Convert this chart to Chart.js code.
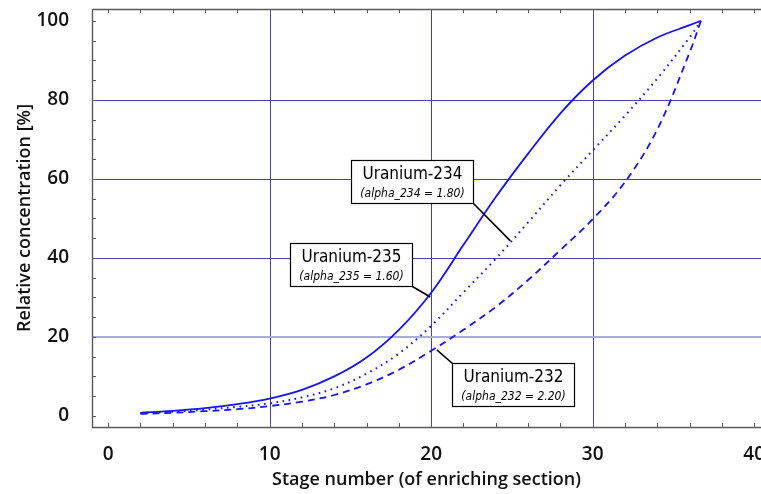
<!DOCTYPE html>
<html>
<head>
<meta charset="utf-8">
<title>Enrichment profile</title>
<script src="https://cdn.jsdelivr.net/npm/chart.js@4/dist/chart.umd.min.js"></script>
<style>
    html, body { margin: 0; padding: 0; background: #fff; overflow: hidden; }
    #chartBox { width: 761px; height: 494px; }
</style>
</head>
<body>
<div id="chartBox"><canvas id="Chartjs-Enrich" width="761" height="494"></canvas></div>
<script>
// stage numbers along the enriching section
const stages = [2, 4, 6, 8, 10, 12, 14, 16, 18, 20, 22, 24, 26, 28, 30, 32, 34, 36, 36.7];
// relative concentration [%]
const u235 = [0.8, 1.3, 2.0, 3.0, 4.4, 6.6, 10.0, 14.8, 21.8, 31.2, 43.3, 55.4, 66.4, 76.6, 84.9, 91.2, 95.8, 98.9, 100];
const u234 = [0.7, 1.1, 1.6, 2.3, 3.2, 4.7, 7.0, 10.7, 15.8, 22.8, 31.3, 39.8, 49.0, 58.4, 67.2, 76.0, 85.4, 95.8, 100];
const u232 = [0.5, 0.8, 1.2, 1.7, 2.5, 3.6, 5.3, 8.0, 11.7, 16.5, 21.8, 27.6, 34.4, 42.0, 49.8, 59.2, 72.5, 92.0, 100];

// callout texts
const noteTitles = ['Uranium-235', 'Uranium-234', 'Uranium-232'];
const noteAlphas = ['(alpha_235 = 1.60)', '(alpha_234 = 1.80)', '(alpha_232 = 2.20)'];

// which grid lines the old plot shows
const xGridAt = [10, 20, 30];
const yGridAt = [20, 40, 60, 80];

const EnrichChart = {
    Colors: {
        curve: 'rgb(20, 20, 240)',
        grid: 'rgb(66, 66, 178)',
        gridLight: 'rgb(170, 172, 218)',
        frame: 'rgb(90, 90, 90)',
        text: 'rgb(17, 17, 17)'
    },
    // where each callout box sits and where its leader points (data units)
    Notes: [
        { box: [15.02, 38.35], tip: [19.94, 30.1], corner: 'br' },
        { box: [18.82, 59.24], tip: [24.9, 44.3], corner: 'br' },
        { box: [25.05, 7.95], tip: [20.35, 16.7], corner: 'tl' }
    ],
    toPoints(vals) {
        return stages.map((s, i) => ({ x: s, y: vals[i] }));
    }
};

// grid, frame + small inward ticks, the look of the old plot
const frameTicks = {
    id: 'frameTicks',
    beforeDatasetsDraw(chart) {
        const { ctx, chartArea: a, scales: { x, y } } = chart;
        ctx.save();

        ctx.lineWidth = 1;
        ctx.strokeStyle = EnrichChart.Colors.grid;
        ctx.beginPath();
        xGridAt.forEach(v => {
            const px = Math.round(x.getPixelForValue(v)) + 0.5;
            ctx.moveTo(px, a.top);
            ctx.lineTo(px, a.bottom);
        });
        yGridAt.forEach(v => {
            if (v === 20) return;
            const py = Math.round(y.getPixelForValue(v)) + 0.5;
            ctx.moveTo(a.left, py);
            ctx.lineTo(a.right, py);
        });
        ctx.stroke();
        // the 20 % line comes out paler and fatter in the original
        ctx.strokeStyle = EnrichChart.Colors.gridLight;
        ctx.lineWidth = 2;
        ctx.beginPath();
        const p20 = Math.round(y.getPixelForValue(20));
        ctx.moveTo(a.left, p20);
        ctx.lineTo(a.right, p20);
        ctx.stroke();

        ctx.strokeStyle = EnrichChart.Colors.frame;
        ctx.lineWidth = 1.4;
        ctx.beginPath();
        ctx.moveTo(a.right + 2, a.top + 0.5);
        ctx.lineTo(a.left + 0.5, a.top + 0.5);
        ctx.lineTo(a.left + 0.5, a.bottom + 0.5);
        ctx.lineTo(a.right + 2, a.bottom + 0.5);
        ctx.stroke();

        ctx.lineWidth = 1;
        ctx.beginPath();
        for (let v = 0; v <= 40; v += 2) {
            const px = Math.round(x.getPixelForValue(v)) + 0.5;
            ctx.moveTo(px, a.bottom);
            ctx.lineTo(px, a.bottom - 4);
            ctx.moveTo(px, a.top);
            ctx.lineTo(px, a.top + 4);
        }
        for (let v = 0; v <= 100; v += 5) {
            const py = Math.round(y.getPixelForValue(v)) + 0.5;
            ctx.moveTo(a.left, py);
            ctx.lineTo(a.left + 4, py);
        }
        ctx.stroke();
        ctx.restore();
    }
};

const callouts = {
    id: 'callouts',
    afterDatasetsDraw(chart) {
        const { ctx, scales: { x, y } } = chart;
        const w = 122, h = 43;
        ctx.save();
        EnrichChart.Notes.forEach((n, i) => {
            const cx = x.getPixelForValue(n.box[0]);
            const cy = y.getPixelForValue(n.box[1]);
            const left = Math.round(cx - w / 2) + 0.5;
            const top = Math.round(cy - h / 2) + 0.5;
            const corner = n.corner === 'br' ? [left + w, top + h] : [left, top];

            // leader line first so the box covers its end
            ctx.strokeStyle = '#000';
            ctx.lineWidth = 1.6;
            ctx.beginPath();
            ctx.moveTo(corner[0], corner[1]);
            ctx.lineTo(x.getPixelForValue(n.tip[0]), y.getPixelForValue(n.tip[1]));
            ctx.stroke();

            ctx.fillStyle = '#fff';
            ctx.fillRect(left, top, w, h);
            ctx.lineWidth = 1.2;
            ctx.strokeRect(left, top, w, h);

            ctx.fillStyle = '#000';
            ctx.textAlign = 'center';
            ctx.textBaseline = 'middle';
            ctx.font = '17px "DejaVu Sans Condensed", "DejaVu Sans", sans-serif';
            ctx.fillText(noteTitles[i], left + w / 2, top + 14);
            ctx.font = 'italic 12px "DejaVu Sans Condensed", "DejaVu Sans", sans-serif';
            ctx.fillText(noteAlphas[i], left + w / 2, top + 33);
        });
        ctx.restore();
    }
};

function lineSet(label, vals, dash, width) {
    return {
        label: label,
        data: EnrichChart.toPoints(vals),
        borderColor: EnrichChart.Colors.curve,
        borderWidth: width,
        borderDash: dash,
        pointRadius: 0,
        tension: 0.35,
        fill: false
    };
}

const tickFont = { family: '"Open Sans", sans-serif', size: 19, weight: '600' };
const titleFont = { family: '"Open Sans", sans-serif', size: 18, weight: '600' };

const ctx = document.getElementById('Chartjs-Enrich').getContext('2d');
EnrichChart.chart = new Chart(ctx, {
    type: 'line',
    data: {
        datasets: [
            lineSet('Uranium-235', u235, [], 1.8),
            lineSet('Uranium-234', u234, [1.6, 4.6], 2),
            lineSet('Uranium-232', u232, [7, 5], 1.8)
        ]
    },
    options: {
        responsive: false,
        animation: false,
        layout: { padding: { top: 9, left: 0, right: 0, bottom: 0 } },
        plugins: {
            legend: { display: false },
            tooltip: { enabled: false }
        },
        scales: {
            x: {
                type: 'linear',
                min: -1,
                max: 40.42,
                border: { display: false },
                grid: { display: false },
                ticks: {
                    stepSize: 10,
                    includeBounds: false,
                    maxRotation: 0,
                    padding: 8,
                    color: EnrichChart.Colors.text,
                    font: tickFont
                },
                title: {
                    display: true,
                    text: 'Stage number (of enriching section)',
                    color: EnrichChart.Colors.text,
                    font: titleFont,
                    padding: { top: 0, bottom: 3 }
                },
                afterFit(scale) {
                    // no auto padding for the last label, it is cut at the edge
                    scale.paddingLeft = 0;
                    scale.paddingRight = 0;
                    scale.height = 67;
                }
            },
            y: {
                min: -2.8,
                max: 103,
                border: { display: false },
                grid: { display: false },
                ticks: {
                    stepSize: 20,
                    includeBounds: false,
                    padding: 15,
                    color: EnrichChart.Colors.text,
                    font: tickFont
                },
                title: {
                    display: true,
                    text: 'Relative concentration [%]',
                    color: EnrichChart.Colors.text,
                    font: titleFont,
                    padding: { top: 14, bottom: 0 }
                },
                afterFit(scale) {
                    scale.width = 92;
                    scale.paddingTop = 0;
                    scale.paddingBottom = 0;
                }
            }
        }
    },
    plugins: [frameTicks, callouts]
});
</script>
</body>
</html>
